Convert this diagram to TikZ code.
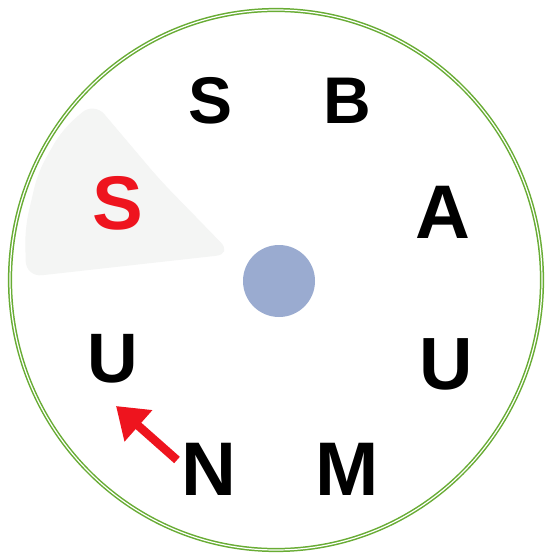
\documentclass[tikz,border=0pt]{standalone}
\usepackage{fontspec}
\setmainfont{Liberation Sans}
\usetikzlibrary{arrows.meta}
\definecolor{ringgreen}{RGB}{104,172,52}
\definecolor{hubblue}{RGB}{154,171,208}
\definecolor{sectorgray}{RGB}{244,245,244}
\definecolor{letterred}{RGB}{238,20,30}
\tikzset{
  letter/.style={inner sep=0pt, font=\bfseries\fontsize{#1}{#1}\selectfont},
  ring/.style={draw=ringgreen, line width=1.5pt, double=white, double distance=1.2pt},
}
\begin{document}
\begin{tikzpicture}[x=1pt,y=-1pt]
\useasboundingbox (0,0) rectangle (545,553);
\fill[white] (0,0) rectangle (545,553);
% light sector
\fill[sectorgray, rounded corners=16pt] (160,180) -- (232,254) -- (26,277) -- (25,228) -- (38,172) -- (62,130) -- (94,102) -- cycle;
% ring
\draw[ring] (276,280) ellipse [x radius=266, y radius=270];
% hub
\fill[hubblue] (279,281) circle [radius=36];
% letters
\node[letter=66] (s1) at (211,101) {S};
\node[letter=66] (b) at (347,101) {B};
\node[letter=76] (a) at (443,212) {A};
\node[letter=74] (u1) at (446,364) {U};
\node[letter=70] (u2) at (113,359) {U};
\node[letter=76] (n) at (209,469) {N};
\node[letter=76] (m) at (347,469) {M};
\node[letter=76, text=letterred] (s2) at (118,203) {S};
% red arrow
\coordinate (tail) at (177,460);
\coordinate (tip) at (116,406);
\draw[letterred, line width=8.5pt, -{Triangle[length=30pt,width=40pt]}] (tail) -- (tip);
\end{tikzpicture}
\end{document}
